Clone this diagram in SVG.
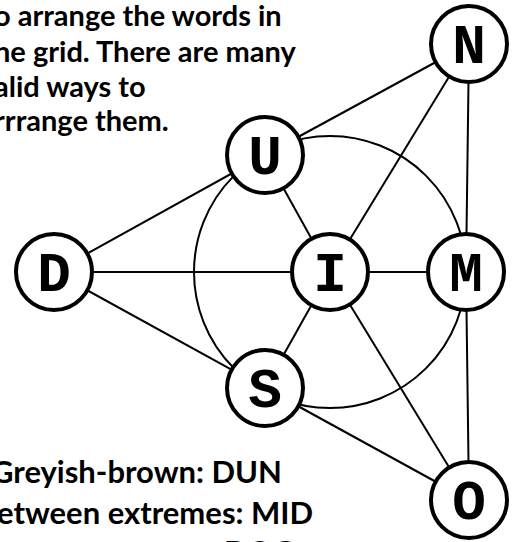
<svg xmlns="http://www.w3.org/2000/svg" width="521" height="542" viewBox="0 0 521 542">
<style>
.bg{fill:#fff}
.txt{font-family:"Lato","Noto Sans",sans-serif;font-size:29px;font-weight:bold;fill:#000}
.clue{font-size:31px}
.edge{stroke:#000;stroke-width:2;fill:none}
.node circle{fill:#fff;stroke:#000;stroke-width:4}
.node text{font-family:"Liberation Mono","Courier New",monospace;font-weight:bold;font-size:56px;text-anchor:middle;fill:#000}
</style>
<rect class="bg" x="0" y="0" width="521" height="542"/>
<g id="intro">
<text class="txt" x="-6" y="26">o arrange the words in</text>
<text class="txt" x="-6" y="62">he grid. There are many</text>
<text class="txt" x="-6" y="97">alid ways to</text>
<text class="txt" x="-6" y="131">rrrange them.</text>
</g>
<g id="clues">
<text class="txt clue" x="-9" y="483">Greyish-brown: DUN</text>
<text class="txt clue" x="-3" y="524">etween extremes: MID</text>
<text class="txt clue" x="224" y="563">DOG</text>
</g>
<g id="connectors">
<circle class="edge" cx="330" cy="272" r="136"/>
<line class="edge" x1="54" y1="272" x2="265" y2="155"/>
<line class="edge" x1="54" y1="272" x2="330" y2="272"/>
<line class="edge" x1="54" y1="272" x2="265" y2="388"/>
<line class="edge" x1="265" y1="155" x2="469" y2="44"/>
<line class="edge" x1="265" y1="155" x2="330" y2="272"/>
<line class="edge" x1="330" y1="272" x2="469" y2="44"/>
<line class="edge" x1="330" y1="272" x2="466" y2="272"/>
<line class="edge" x1="330" y1="272" x2="265" y2="388"/>
<line class="edge" x1="330" y1="272" x2="469" y2="500"/>
<line class="edge" x1="469" y1="44" x2="466" y2="272"/>
<line class="edge" x1="466" y1="272" x2="469" y2="500"/>
<line class="edge" x1="265" y1="388" x2="469" y2="500"/>
</g>
<g id="node-N" class="node"><circle cx="469" cy="44" r="38"/><text x="469" y="63">N</text></g>
<g id="node-U" class="node"><circle cx="265" cy="155" r="38"/><text x="265" y="174">U</text></g>
<g id="node-D" class="node"><circle cx="54" cy="272" r="38"/><text x="54" y="291">D</text></g>
<g id="node-I" class="node"><circle cx="330" cy="272" r="38"/><text x="330" y="291">I</text></g>
<g id="node-M" class="node"><circle cx="466" cy="272" r="38"/><text x="466" y="291">M</text></g>
<g id="node-S" class="node"><circle cx="265" cy="388" r="38"/><text x="265" y="407">S</text></g>
<g id="node-O" class="node"><circle cx="469" cy="500" r="38"/><text x="469" y="519">O</text></g>
</svg>
